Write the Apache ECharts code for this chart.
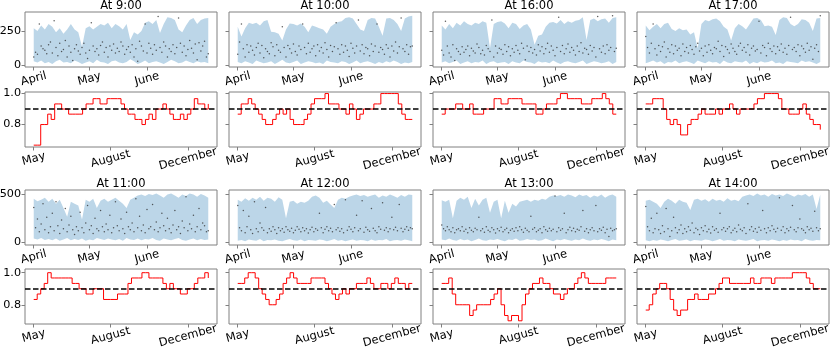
<!DOCTYPE html>
<html>
<head>
<meta charset="utf-8">
<title>Hourly bands and rates</title>
<script src="https://cdn.jsdelivr.net/npm/echarts@6/dist/echarts.min.js"></script>
<style>
  html, body { margin: 0; padding: 0; background: #fff; }
  #chart { width: 830px; height: 355px; }
</style>
</head>
<body>
<div id="chart"></div>
<script>
// x positions
const bandDays = [0,2,4,6,8,10,12,14,16,18,20,22,24,26,28,30,32,34,36,38,40,42,44,46,48,50,52,54,56,58,60,62,64,66,68,70,72,74,76,78,80,82,84,86,88,90,92,94]
const stepIdx = [0,2,4,6,8,10,12,14,16,18,20,22,24,26,28,30,32,34,36,38,40,42,44,46,48,50,52,54,56,58,60,62,64,66,68,70,72,74,76,78,80,82,84,86,88,90,92,94,96,98,100]

// tick labels
const bandTickPos = [0, 30, 61]
const bandTickLabels = ['April', 'May', 'June']
const stepTickPos = [0, 44, 88.4]
const stepTickLabels = ['May', 'August', 'December']
const bandTicks = [[0, 250], [0, 500]]
const rateTicks = [0.8, 1.0]
const target = 0.9

// At 9:00
const upper9 = [270,250,290,260,300,280,240,270,230,260,300,260,240,135,270,285,260,280,300,290,310,270,300,285,260,300,185,240,225,250,310,320,300,330,235,300,350,345,330,260,240,290,330,345,300,330,340,345]
const lower9 = [30,20,35,15,25,10,30,40,20,25,15,35,25,10,20,30,15,40,25,20,10,30,35,20,15,25,45,30,10,20,35,15,25,30,20,10,25,40,30,15,20,35,25,15,30,20,25,15]
const dots9 = [60,95,80,300,140,120,110,85,150,170,90,325,130,70,160,100,115,180,60,140,
  95,35,120,150,105,80,130,160,90,50,110,310,140,100,120,75,145,170,95,130,
  60,140,110,155,90,125,100,170,140,80,115,135,95,150,60,120,30,175,140,105,
  300,90,160,125,80,150,110,355,130,95,170,140,60,120,100,150,85,130,345,160,
  95,140,70,115,180,125,90,155,40,165,105,140,175,60,85]
const rate9 = [.667,.667,.8,.8,.867,.833,.933,.933,.9,.9,.867,.867,.867,.867,.9,.933,.933,.967,.967,.933,.933,.967,.967,.967,.967,.933,.9,.867,.867,.833,.833,.8,.833,.867,.833,.9,.9,.933,.9,.867,.833,.833,.867,.833,.867,.9,.967,.933,.933,.9,.933]

// At 10:00
const upper10 = [280,210,270,310,300,310,290,320,330,245,240,230,180,260,305,300,290,305,280,240,290,280,270,260,230,280,300,315,320,345,350,340,300,260,250,330,345,340,280,215,340,345,330,300,250,340,355,360]
const lower10 = [25,15,30,20,10,35,25,15,20,30,10,25,40,20,15,25,35,10,20,30,25,15,20,10,35,25,20,15,30,25,10,20,35,15,25,30,20,10,25,15,30,20,35,25,10,20,15,25]
const dots10 = [80,170,300,120,60,150,95,140,110,75,130,160,90,145,55,120,100,85,165,135,
  70,150,110,95,280,130,60,145,120,90,155,100,75,140,115,300,130,85,160,95,
  120,140,70,150,105,130,90,165,115,60,145,100,135,310,120,80,150,95,140,110,
  65,160,125,90,140,330,105,150,85,130,120,70,155,100,140,300,95,130,115,80,
  150,125,60,140,105,170,90,135,345,120,100,150,80,135,140]
const rate10 = [.867,.933,.933,.967,.933,.9,.867,.833,.8,.8,.833,.867,.9,.867,.9,.833,.8,.8,.8,.833,.867,.933,.967,.967,.967,1,.933,.933,.933,.9,.9,.867,.933,.9,.833,.867,.9,.9,.9,.933,.933,1,1,1,1,1,.933,.867,.833,.833,.833]

// At 16:00
const upper16 = [290,260,300,270,310,290,320,300,290,310,300,320,310,125,300,315,320,305,270,310,300,265,290,300,260,150,215,225,280,310,315,305,330,300,320,310,325,330,350,185,330,340,320,335,340,310,345,350]
const lower16 = [20,30,15,25,35,10,20,30,15,25,20,35,10,25,30,15,20,25,10,30,20,15,35,25,20,10,30,20,25,15,35,20,10,25,30,20,15,25,35,10,20,30,25,15,20,30,10,25]
const dots16 = [110,75,320,140,90,60,150,35,120,100,80,135,95,115,140,70,125,105,90,155,
  130,85,110,75,145,120,100,330,60,140,90,125,115,80,150,100,135,70,120,95,
  145,110,85,160,125,40,140,100,130,90,115,75,150,105,135,85,120,160,95,140,
  110,70,130,350,100,145,85,120,155,95,130,110,75,140,100,165,90,125,115,80,
  145,105,130,60,355,120,95,140,85,150,110,130,360,100,125]
const rate16 = [.867,.9,.9,.9,.933,.933,.9,.9,.933,.867,.867,.867,.9,.9,.9,.967,.967,.933,.933,.967,.967,.967,.967,.933,.933,.933,.933,.867,.867,.9,.933,.933,.933,.967,1,1,.967,.967,.967,.967,.933,.933,.933,.967,.967,.967,1,.967,.933,.867,.867]

// At 17:00
const upper17 = [290,255,280,300,270,300,310,265,250,270,255,260,225,240,125,300,330,320,335,340,320,280,260,180,270,300,285,260,300,340,345,330,285,290,280,220,330,350,345,300,285,300,335,330,310,250,340,345]
const lower17 = [15,25,35,20,30,10,25,20,35,15,25,30,20,10,35,25,15,30,20,25,10,35,20,15,30,25,20,35,10,25,15,30,20,25,35,15,20,10,30,25,20,15,35,25,30,20,10,25]
const dots17 = [210,130,90,160,300,120,75,145,100,135,170,60,120,95,150,85,140,110,125,70,
  155,100,130,90,145,115,80,135,160,105,125,70,140,95,150,110,85,130,120,175,
  100,145,65,135,115,90,155,125,100,80,140,160,110,130,95,150,75,125,140,105,
  115,320,90,145,130,70,160,120,100,140,85,135,110,155,95,125,80,145,350,115,
  130,100,150,70,140,120,95,160,110,135,45,125,150,100,360]
const rate17 = [.933,.933,.967,.967,.967,.9,.833,.8,.833,.8,.733,.733,.8,.833,.833,.867,.9,.867,.867,.867,.9,.867,.9,.9,.933,.9,.867,.9,.9,.9,.9,.933,.967,.967,1,1,1,1,.967,.9,.9,.867,.867,.867,.9,.933,.867,.833,.8,.8,.767]

// At 11:00
const upper11 = [450,425,440,460,420,450,400,440,355,265,420,400,380,235,440,420,450,355,430,450,420,440,460,430,400,355,440,460,485,495,480,500,490,505,485,460,495,505,485,460,495,480,505,495,470,500,485,460]
const lower11 = [40,30,45,25,35,20,40,15,30,45,20,35,25,40,15,30,20,45,35,25,40,30,20,35,15,45,30,25,40,20,35,30,45,25,15,40,30,20,35,45,25,15,30,40,20,35,25,30]
const dots11 = [360,150,240,110,190,400,130,260,100,160,300,120,420,170,90,230,140,350,110,180,
  270,130,80,160,120,310,150,100,200,380,130,170,90,250,140,120,330,160,110,190,
  130,280,100,150,420,170,120,240,140,90,310,160,130,200,110,450,150,270,120,180,
  100,340,140,160,390,130,210,110,150,300,170,120,250,140,100,180,330,130,160,90,
  220,150,470,120,190,140,280,110,160,350,130,200,170,110,120]
const rate11 = [.833,.867,.9,.933,1,.967,.967,.967,.967,.967,.967,.933,.933,.9,.9,.867,.867,.9,.9,.9,.833,.833,.833,.833,.867,.867,.867,.933,.967,.967,.967,1,1,.967,.967,.967,.967,.933,.9,.933,.9,.9,.867,.867,.9,.9,.933,.967,.967,1,.967]

// At 12:00
const upper12 = [440,420,455,430,460,440,470,430,460,450,420,465,440,250,420,430,400,420,410,430,470,485,460,410,430,390,355,440,460,450,470,485,495,480,490,470,485,495,460,485,470,495,480,460,490,470,495,490]
const lower12 = [15,25,10,30,20,15,35,10,25,20,30,15,10,25,35,20,15,30,10,25,20,15,30,25,10,20,35,15,25,10,20,30,15,25,20,10,30,15,25,20,35,10,20,25,15,30,20,10]
const dots12 = [380,150,120,330,100,160,270,130,90,420,140,110,200,150,125,360,100,140,115,160,
  130,90,150,120,140,105,160,130,115,145,100,125,160,135,110,150,120,140,95,130,
  155,110,140,125,300,150,100,135,160,120,145,110,390,130,150,115,140,100,440,125,
  160,135,110,150,280,120,140,430,105,155,130,115,350,145,120,100,160,135,410,125,
  150,110,140,260,130,155,120,390,145,110,135,160,125,150,140]
const rate12 = [.933,.933,.967,1,1,.967,.9,.867,.833,.8,.8,.833,.867,.933,.967,1,.967,.933,.933,.933,.933,.967,.967,.967,.967,.933,.9,.867,.833,.867,.9,.867,.9,.9,.933,.933,.933,.967,.933,.9,.9,.933,.933,.9,.933,.967,.933,.933,.9,.933,.933]

// At 13:00
const upper13 = [435,420,440,250,430,460,440,470,355,450,380,440,460,305,420,440,250,430,305,400,370,420,430,440,420,440,430,450,440,470,485,480,490,470,495,485,465,495,480,490,460,485,470,495,460,485,495,470]
const lower13 = [30,20,40,25,15,35,20,30,10,25,40,20,15,30,25,35,20,10,30,25,40,15,20,35,25,30,15,20,40,25,10,30,20,35,25,15,30,20,40,25,15,30,20,35,25,10,30,20]
const dots13 = [180,140,120,160,130,110,150,100,130,140,120,160,115,135,100,150,125,110,145,130,
  260,120,140,105,160,125,110,150,130,95,140,120,155,110,130,145,100,125,140,115,
  150,120,160,130,105,145,125,110,270,135,150,110,125,140,100,160,130,115,145,120,
  135,480,110,150,125,140,300,100,130,155,120,145,110,135,125,160,330,115,140,100,
  130,150,120,380,110,140,125,155,100,135,60,145,120,130,140]
const rate13 = [.933,.933,.967,.867,.8,.8,.8,.8,.733,.767,.8,.8,.8,.8,.833,.867,.9,.8,.733,.7,.733,.733,.7,.8,.867,.9,.933,.933,.967,.933,.933,.9,.867,.867,.833,.867,.9,.9,.933,.967,1,.967,.933,.933,.933,.933,.933,.967,.967,.967,.967]

// At 14:00
const upper14 = [430,440,420,400,355,420,450,430,400,440,420,410,335,440,450,430,445,420,450,430,440,420,455,430,440,425,470,485,495,480,505,485,495,470,500,485,495,480,505,490,470,495,485,500,470,495,345,495]
const lower14 = [20,10,25,15,30,20,10,25,35,15,20,30,10,25,20,15,30,25,10,20,35,15,25,20,10,30,20,15,25,35,10,20,25,15,30,20,10,25,15,30,20,25,10,35,20,15,25,20]
const dots14 = [370,160,120,250,100,140,300,130,90,170,110,350,140,60,120,260,150,100,130,180,
  90,140,110,160,125,200,100,145,130,80,150,120,170,110,135,95,160,125,140,105,
  300,130,150,115,140,160,100,125,145,110,180,135,120,150,90,400,130,160,115,140,
  105,155,125,330,140,100,150,120,170,135,110,145,460,125,160,100,140,120,155,380,
  130,110,150,240,140,125,100,160,130,145,115,320,150,120,140]
const rate14 = [.767,.8,.867,.9,.933,.933,.9,.833,.767,.733,.767,.767,.833,.833,.867,.833,.833,.833,.867,.867,.9,.933,.967,.967,.933,.933,.933,.933,.933,.933,.967,.933,.933,.967,.967,.967,.933,.967,.967,.967,.967,.967,1,1,1,1,.967,.933,.9,.9,.9]

const panels = [
  { title: 'At 9:00', upper: upper9, lower: lower9, dots: dots9, rate: rate9 },
  { title: 'At 10:00', upper: upper10, lower: lower10, dots: dots10, rate: rate10 },
  { title: 'At 16:00', upper: upper16, lower: lower16, dots: dots16, rate: rate16 },
  { title: 'At 17:00', upper: upper17, lower: lower17, dots: dots17, rate: rate17 },
  { title: 'At 11:00', upper: upper11, lower: lower11, dots: dots11, rate: rate11 },
  { title: 'At 12:00', upper: upper12, lower: lower12, dots: dots12, rate: rate12 },
  { title: 'At 13:00', upper: upper13, lower: lower13, dots: dots13, rate: rate13 },
  { title: 'At 14:00', upper: upper14, lower: lower14, dots: dots14, rate: rate14 }
]

// layout
const colLeft = [25, 229, 433, 637]
const panelWidth = 192
const bandTop = [12, 190]
const stepTop = [92, 269]
const panelHeight = 55
const bandRange = [[-12, 388], [-28, 541]]
const rateRange = [[0.655, 1.01], [0.68, 1.023]]

const font = 'DejaVu Sans'
const frameColor = '#808080'
const bandColor = '#bcd6e8'

function pickLabel(pos, labels) {
  return v => {
    const i = pos.findIndex(p => Math.abs(p - v) < 0.01)
    return i < 0 ? '' : labels[i]
  }
}

function makeX(gridIndex, min, max, pos, labels) {
  return {
    type: 'value', gridIndex, min, max,
    axisLine: { show: false, onZero: false },
    splitLine: { show: false },
    axisTick: { show: true, length: 3.5, customValues: pos, lineStyle: { color: frameColor } },
    axisLabel: {
      customValues: pos, formatter: pickLabel(pos, labels),
      rotate: 15, align: 'center', verticalAlign: 'middle', margin: 12,
      fontSize: 11.5, fontFamily: font, color: '#000'
    }
  }
}

function makeY(gridIndex, range, ticks, showLabel, fmt) {
  return {
    type: 'value', gridIndex, min: range[0], max: range[1],
    axisLine: { show: false, onZero: false },
    splitLine: { show: false },
    axisTick: { show: true, length: 3.5, customValues: ticks, lineStyle: { color: frameColor } },
    axisLabel: {
      show: showLabel, customValues: ticks, formatter: fmt, margin: 4,
      fontSize: 11.2, fontFamily: font, color: '#000'
    }
  }
}

const grid = [], xAxis = [], yAxis = [], series = [], title = []

panels.forEach((p, k) => {
  const row = Math.floor(k / 4)
  const col = k % 4
  const left = colLeft[col]

  title.push({
    text: p.title, left: left + panelWidth / 2, top: bandTop[row] - 12,
    textAlign: 'center', padding: 0,
    textStyle: { fontSize: 11.5, fontFamily: font, fontWeight: 'normal', color: '#000' }
  })

  // band panel
  const gb = grid.length
  grid.push({ left, top: bandTop[row], width: panelWidth, height: panelHeight, show: true, borderColor: frameColor, borderWidth: 1, outerBoundsMode: 'none' })
  xAxis.push(makeX(gb, -4.7, 98.7, bandTickPos, bandTickLabels))
  yAxis.push(makeY(gb, bandRange[row], bandTicks[row], col === 0, v => String(v)))
  series.push({
    type: 'custom', xAxisIndex: gb, yAxisIndex: gb, silent: true, z: 2,
    data: [[0, 0]],
    renderItem: (params, api) => {
      const top = bandDays.map((d, i) => api.coord([d, p.upper[i]]))
      const bottom = bandDays.map((d, i) => api.coord([d, p.lower[i]])).reverse()
      return { type: 'polygon', shape: { points: top.concat(bottom) }, style: { fill: bandColor } }
    }
  })
  series.push({
    type: 'scatter', xAxisIndex: gb, yAxisIndex: gb, silent: true, z: 3,
    symbolSize: 1.5, itemStyle: { color: '#333' },
    data: p.dots.map((v, i) => [i, v])
  })

  // rate panel
  const gs = grid.length
  grid.push({ left, top: stepTop[row], width: panelWidth, height: panelHeight, show: true, borderColor: frameColor, borderWidth: 1, outerBoundsMode: 'none' })
  xAxis.push(makeX(gs, -5, 105, stepTickPos, stepTickLabels))
  yAxis.push(makeY(gs, rateRange[row], rateTicks, col === 0, v => v.toFixed(1)))
  series.push({
    type: 'line', xAxisIndex: gs, yAxisIndex: gs, silent: true, z: 3,
    step: 'end', symbol: 'none',
    lineStyle: { color: '#ff0000', width: 1 },
    data: stepIdx.map((x, i) => [x, p.rate[i]]),
    markLine: {
      silent: true, symbol: ['none', 'none'], label: { show: false },
      lineStyle: { color: '#000', type: [5.5, 2.5], width: 1.5 },
      data: [{ yAxis: target }]
    }
  })
})

const chart = echarts.init(document.getElementById('chart'), null, { renderer: 'canvas' })
chart.setOption({
  animation: false,
  backgroundColor: '#fff',
  title, grid, xAxis, yAxis, series
})
</script>
</body>
</html>
